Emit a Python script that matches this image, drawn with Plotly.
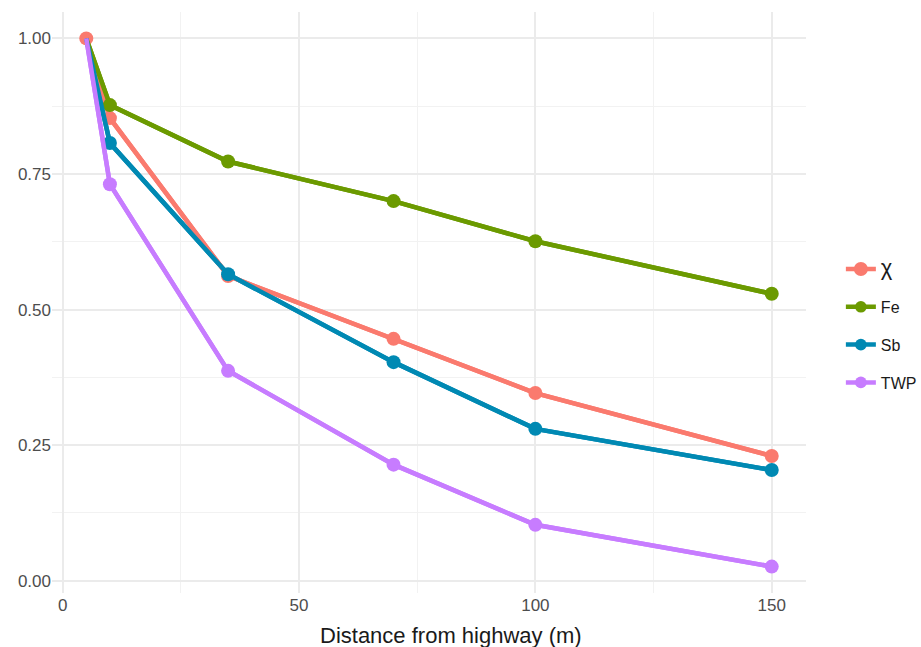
import plotly.graph_objects as go

distance = [5, 10, 35, 70, 100, 150]
series_names = ["χ", "Fe", "Sb", "TWP"]
chi = [1.00, 0.853, 0.562, 0.446, 0.346, 0.230]
fe = [1.00, 0.877, 0.773, 0.700, 0.626, 0.529]
sb = [1.00, 0.807, 0.565, 0.403, 0.280, 0.204]
twp = [1.00, 0.731, 0.387, 0.214, 0.103, 0.026]
x_ticks = [0, 50, 100, 150]
y_ticks = [0.00, 0.25, 0.50, 0.75, 1.00]

values = [chi, fe, sb, twp]
colors = ["#FA7A6E", "#6B9A00", "#0089B3", "#C77CFF"]
labels = ["<span style='font-size:22px'>χ</span>", "Fe", "Sb", "TWP"]

fig = go.Figure()
for i, (nm, vals, col, lab) in enumerate(zip(series_names, values, colors, labels)):
    fig.add_trace(go.Scatter(
        x=distance, y=vals, mode="lines", line=dict(color=col, width=4.5),
        showlegend=False, hoverinfo="skip"))
for i, (nm, vals, col, lab) in enumerate(zip(series_names, values, colors, labels)):
    sizes = [14] * len(vals)
    if i != 0:
        sizes[0] = 0
    fig.add_trace(go.Scatter(
        x=distance, y=vals, mode="lines+markers", name=lab,
        line=dict(color=col, width=4.5),
        marker=dict(color=col, size=sizes, opacity=1, line=dict(width=0)),
        legendgroup=nm, legendrank=i))

fig.add_annotation(text="Distance from highway (m)", xref="paper", yref="paper",
                   x=0.529, y=-0.0723, yanchor="middle", xanchor="center",
                   showarrow=False, font=dict(size=22, color="#1A1A1A"))

fig.update_layout(
    width=921, height=647,
    margin=dict(l=52, r=115, t=12, b=54),
    paper_bgcolor="white", plot_bgcolor="white",
    font=dict(family="Liberation Sans, Arial", color="#4D4D4D", size=16),
    legend=dict(xref="container", yref="container", x=0.913, y=0.496,
                xanchor="left", yanchor="middle",
                font=dict(size=16, color="#1A1A1A"), tracegroupgap=14,
                itemwidth=30),
    xaxis=dict(range=[-2.25, 157.25], tickvals=x_ticks, showgrid=True,
               gridcolor="#EBEBEB", gridwidth=1.5, zeroline=False,
               showline=False, ticks="", tickfont=dict(size=17, color="#4D4D4D"),
               minor=dict(dtick=25, tick0=0, showgrid=True, gridcolor="#F2F2F2", gridwidth=1)),
    yaxis=dict(range=[-0.0227, 1.0487], tickvals=y_ticks, tickformat=".2f", showgrid=True,
               gridcolor="#EBEBEB", gridwidth=1.5, zeroline=False,
               showline=False, ticks="", tickfont=dict(size=17, color="#4D4D4D"),
               minor=dict(dtick=0.125, tick0=0, showgrid=True, gridcolor="#F2F2F2", gridwidth=1)),
)

fig.write_html("out.html")
